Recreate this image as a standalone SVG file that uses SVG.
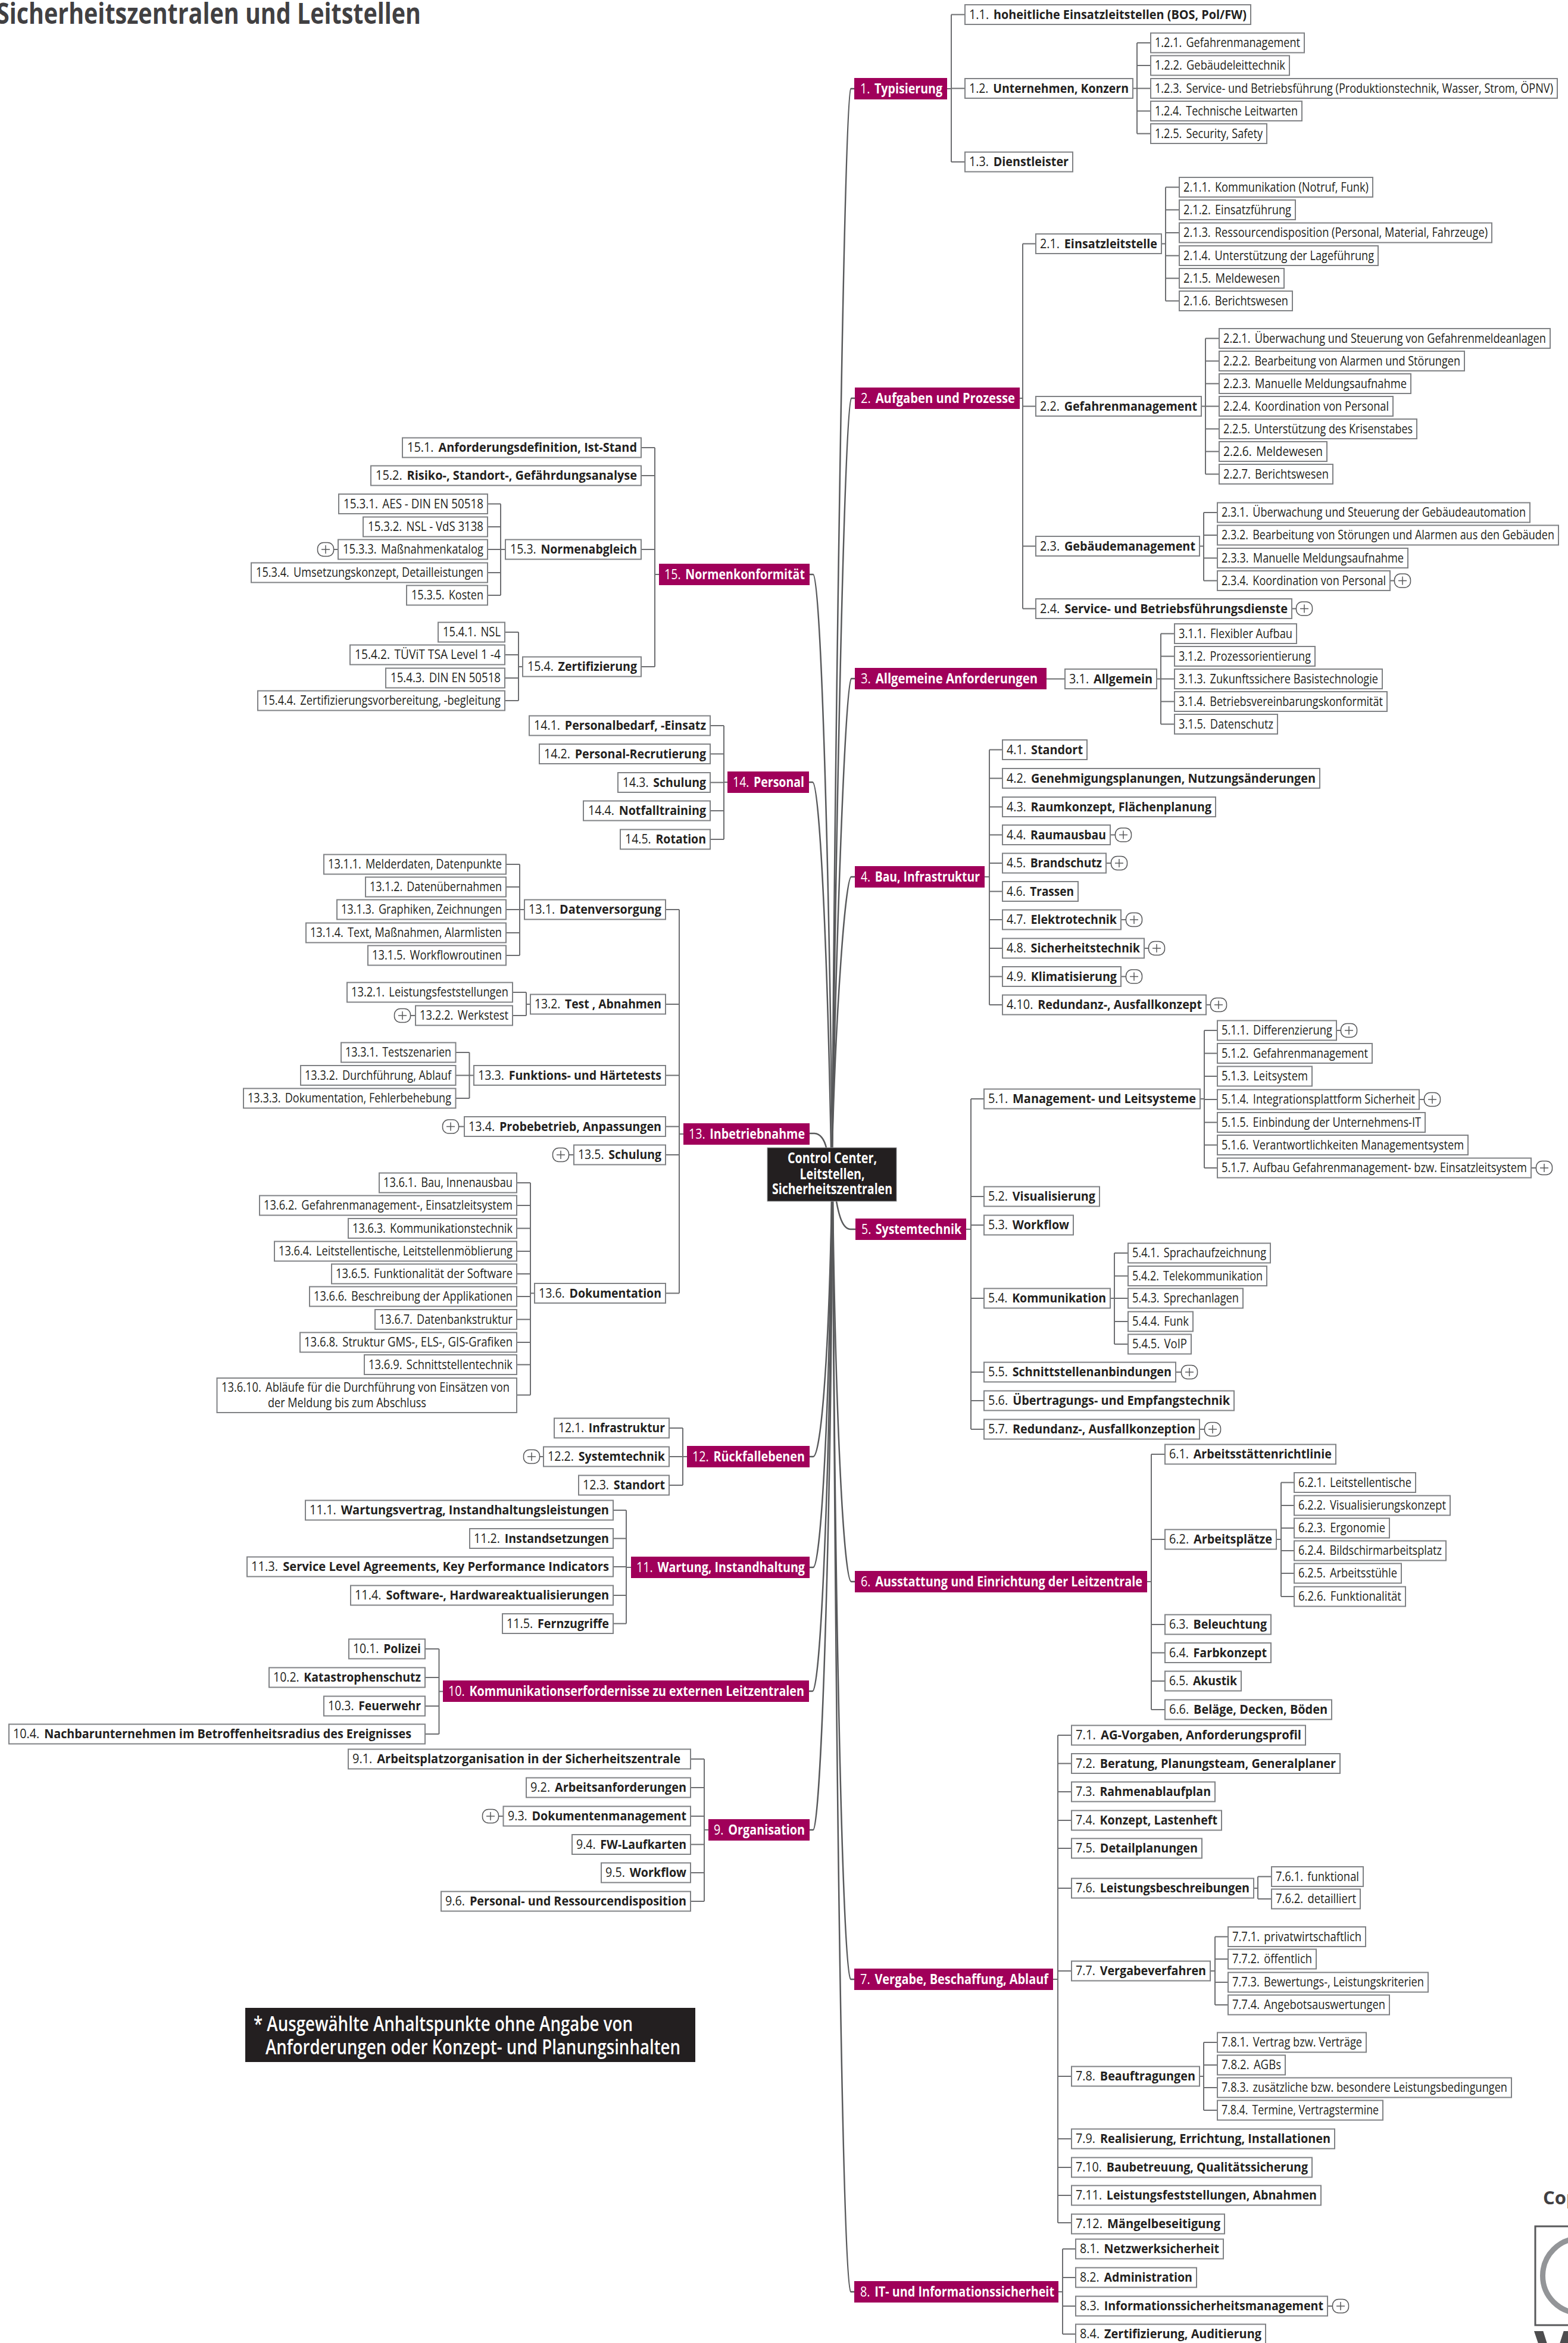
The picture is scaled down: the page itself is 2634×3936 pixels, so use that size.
<svg xmlns="http://www.w3.org/2000/svg" xmlns:xlink="http://www.w3.org/1999/xlink" width="2634" height="3936" viewBox="0 0 2634 3936">
<style>
text{font-family:"Open Sans","Noto Sans","Liberation Sans",sans-serif;font-size:22px;fill:#231f20}
.h{font-weight:700}
rect.b{fill:#fff;stroke:#808285;stroke-width:2}
rect.t{fill:#a0005a}
rect.r{fill:#231f20;stroke:#939598;stroke-width:1}
text.w{font-size:23px;fill:#fff}
text.w tspan{fill:#fff}
text.c{font-size:25px;font-weight:700;fill:#fff;text-anchor:middle}
text.n{font-size:35px;font-weight:600;fill:#fff}
.k path{fill:none;stroke:#6d6e71;stroke-width:2}
.k path.m{stroke:#58595b;stroke-width:2.5}
.p rect{fill:#fff;stroke:#58595b;stroke-width:1.5}
.p path{fill:none;stroke:#58595b;stroke-width:1.5}
</style>
<defs>
<g id="plus" class="p"><rect x="-13.5" y="-11.5" width="27" height="23" rx="10"/><path d="M-7 0H7M0 -7V7"/></g>
</defs>
<rect width="2634" height="3936" fill="#fff"/>
<text id="title" x="-6" y="40" style="font-size:49px;font-weight:700;fill:#414042" textLength="713" lengthAdjust="spacingAndGlyphs">Sicherheitszentralen und Leitstellen</text>
<g id="connectors" class="k">
<path class="m" d="M1435 149H1429C1418 149 1402 1300 1398 1928"/>
<path class="m" d="M1436 669H1430C1419 669 1404 1400 1398 1928"/>
<path class="m" d="M1436 1140H1430C1420 1140 1404 1600 1398 1928"/>
<path class="m" d="M1436 1473H1430C1420 1473 1404 1700 1398 1928"/>
<path class="m" d="M1360 965H1366C1378 965 1392 1400 1398 1928"/>
<path class="m" d="M1359 1314H1365C1377 1314 1390 1600 1396 1928"/>
<path class="m" d="M1360 1904H1368C1378 1904 1385 1915 1388 1928"/>
<path class="m" d="M1360 2447H1366C1378 2447 1392 2300 1397 2018"/>
<path class="m" d="M1360 2633H1366C1378 2633 1393 2400 1397 2018"/>
<path class="m" d="M1359 2841H1365C1378 2841 1394 2500 1398 2018"/>
<path class="m" d="M1360 3074H1366C1378 3074 1396 2600 1398 2018"/>
<path class="m" d="M1437 2065H1429C1415 2065 1409 2040 1405 2018"/>
<path class="m" d="M1436 2657H1430C1418 2657 1404 2400 1399 2018"/>
<path class="m" d="M1435 3325H1429C1416 3325 1402 2700 1399 2018"/>
<path class="m" d="M1435 3850H1429C1416 3850 1404 3000 1399 2018"/>
<path d="M1591 149H1598M1598 24.5V272M1598 24.5H1621M1598 148.5H1621M1598 272H1621"/>
<path d="M1903 148.5H1910M1910 72V224.5M1910 72H1933M1910 110H1933M1910 148.5H1933M1910 186.5H1933M1910 224.5H1933"/>
<path d="M1713 669H1718M1718 409.5V1022.5M1718 409.5H1740M1718 682.5H1740M1718 917.5H1740M1718 1022.5H1740"/>
<path d="M1951 409.5H1958M1958 314.5V505.5M1958 314.5H1981M1958 352.5H1981M1958 391H1981M1958 429.5H1981M1958 467.5H1981M1958 505.5H1981"/>
<path d="M2018 682.5H2025M2025 568.5V796.5M2025 568.5H2048M2025 606.5H2048M2025 644.5H2048M2025 682.5H2048M2025 720.5H2048M2025 758.5H2048M2025 796.5H2048"/>
<path d="M2015 917.5H2022M2022 861V975.5M2022 861H2045M2022 899H2045M2022 937.5H2045M2022 975.5H2045M2335 975.5H2343M2170 1022.5H2178"/>
<path d="M1758 1140.5H1789M1943 1140.5H1950M1950 1064.5V1216.5M1950 1064.5H1973M1950 1102.5H1973M1950 1140.5H1973M1950 1178.5H1973M1950 1216.5H1973"/>
<path d="M1654 1473H1662M1662 1259.5V1688M1662 1259.5H1684M1662 1307.5H1684M1662 1355.5H1684M1662 1402.5H1684M1662 1450H1684M1662 1497.5H1684M1662 1545H1684M1662 1593H1684M1662 1640.5H1684M1662 1688H1684M1865 1402.5H1874M1858 1450H1866M1883 1545H1892M1922 1593H1930M1883 1640.5H1892M2026 1688H2034"/>
<path d="M1623 2065H1631M1631 1846V2401M1631 1846H1653M1631 2010H1653M1631 2058H1653M1631 2181H1653M1631 2305H1653M1631 2353H1653M1631 2401H1653M1975 2305H1984M2015 2401H2024"/>
<path d="M2016 1846H2023M2023 1731V1962M2023 1731H2045M2023 1769.5H2045M2023 1808H2045M2023 1847H2045M2023 1885.5H2045M2023 1923.5H2045M2023 1962H2045M2245 1731H2253M2384 1847H2393M2572 1962H2581"/>
<path d="M1865 2181H1872M1872 2105V2258M1872 2105H1895M1872 2143.5H1895M1872 2181H1895M1872 2220H1895M1872 2258H1895"/>
<path d="M1927 2657H1934M1934 2443V2872M1934 2443H1957M1934 2586H1957M1934 2729H1957M1934 2776.5H1957M1934 2824H1957M1934 2872H1957"/>
<path d="M2144 2586H2152M2152 2490.5V2682M2152 2490.5H2174M2152 2529H2174M2152 2567H2174M2152 2605H2174M2152 2643H2174M2152 2682H2174"/>
<path d="M1769 3325H1777M1777 2915V3734M1777 2915H1800M1777 2962.5H1800M1777 3010H1800M1777 3058H1800M1777 3105H1800M1777 3172H1800M1777 3311H1800M1777 3488H1800M1777 3593H1800M1777 3641H1800M1777 3688H1800M1777 3734H1800"/>
<path d="M2106 3172H2113M2113 3152.5V3190M2113 3152.5H2136M2113 3190H2136"/>
<path d="M2033 3311H2041M2041 3253.5V3368M2041 3253.5H2063M2041 3291H2063M2041 3330H2063M2041 3368H2063"/>
<path d="M2015 3488H2022M2022 3431V3545M2022 3431H2045M2022 3469H2045M2022 3507H2045M2022 3545H2045"/>
<path d="M1778 3850H1785M1785 3778V3921M1785 3778H1807M1785 3826H1807M1785 3874H1807M1785 3921H1807M2230 3874H2239"/>
<path d="M1107 965H1100M1100 752V1120M1100 752H1077M1100 799H1077M1100 923H1077M1100 1120H1077"/>
<path d="M849 923H841M841 846.5V1000M841 846.5H819M841 885H819M841 923H819M841 962H819M841 1000H819M568 923H560"/>
<path d="M878 1120H871M871 1062V1177M871 1062H848M871 1100H848M871 1139H848M871 1177H848"/>
<path d="M1222 1314H1216M1216 1219V1410M1216 1219H1193M1216 1266.5H1193M1216 1314.5H1193M1216 1362H1193M1216 1410H1193"/>
<path d="M1148 1905H1141M1141 1528V2172.5M1141 1528H1118M1141 1687H1118M1141 1806.5H1118M1141 1892.5H1118M1141 1940H1118M1141 2172.5H1118M780 1892.5H771M964 1940H956"/>
<path d="M881 1528H873M873 1452V1605M873 1452H850M873 1490H850M873 1528H850M873 1567H850M873 1605H850"/>
<path d="M891 1687H884M884 1667V1706M884 1667H861M884 1706H861M698 1706H690"/>
<path d="M796 1806.5H788.5M788.5 1768V1845M788.5 1768H765.5M788.5 1806.5H765.5M788.5 1845H765.5"/>
<path d="M898 2172.5H891M891 1987V2343.5M891 1987H868M891 2025H868M891 2063.5H868M891 2102H868M891 2140H868M891 2178H868M891 2216.5H868M891 2255H868M891 2292.5H868M891 2343.5H868"/>
<path d="M1154 2447H1147M1147 2399V2495M1147 2399H1124M1147 2447H1124M1147 2495H1124M913 2447H907"/>
<path d="M1060 2633H1052M1052 2537V2727.5M1052 2537H1030M1052 2584.5H1030M1052 2632H1030M1052 2680H1030M1052 2727.5H1030"/>
<path d="M744 2841.5H737.5M737.5 2770V2913M737.5 2770H714M737.5 2818H714M737.5 2866H714M737.5 2913H714"/>
<path d="M1190 3074H1183M1183 2955V3194M1183 2955H1160M1183 3003H1160M1183 3051H1160M1183 3098.5H1160M1183 3146H1160M1183 3194H1160M845.5 3051H838"/>
</g>

<g id="root"><rect class="r" x="1289" y="1928" width="217" height="90"/><text class="c" x="1398" y="1954" textLength="150" lengthAdjust="spacingAndGlyphs">Control Center,</text><text class="c" x="1398" y="1980.5" textLength="109" lengthAdjust="spacingAndGlyphs">Leitstellen,</text><text class="c" x="1398" y="2006" textLength="202" lengthAdjust="spacingAndGlyphs">Sicherheitszentralen</text></g>

<g id="n1"><rect class="t" x="1435" y="131" width="156" height="36"/><text class="w" x="1445" y="156.5" textLength="138" lengthAdjust="spacingAndGlyphs">1. <tspan class="h" dx="3">Typisierung</tspan></text></g>
<g id="n1-1"><rect class="b" x="1621" y="8" width="480" height="33"/><text x="1628" y="31.5" textLength="466" lengthAdjust="spacingAndGlyphs">1.1. <tspan class="h" dx="3">hoheitliche Einsatzleitstellen (BOS, Pol/FW)</tspan></text></g>
<g id="n1-2"><rect class="b" x="1621" y="132" width="282" height="33"/><text x="1628" y="155.5" textLength="268" lengthAdjust="spacingAndGlyphs">1.2. <tspan class="h" dx="3">Unternehmen, Konzern</tspan></text></g>
<g id="n1-2-1"><rect class="b" x="1933" y="55.5" width="258" height="33"/><text x="1940" y="79" textLength="244" lengthAdjust="spacingAndGlyphs">1.2.1. <tspan dx="3">Gefahrenmanagement</tspan></text></g>
<g id="n1-2-2"><rect class="b" x="1933" y="93.5" width="233" height="33"/><text x="1940" y="117" textLength="219" lengthAdjust="spacingAndGlyphs">1.2.2. <tspan dx="3">Gebäudeleittechnik</tspan></text></g>
<g id="n1-2-3"><rect class="b" x="1933" y="132" width="683" height="33"/><text x="1940" y="155.5" textLength="669" lengthAdjust="spacingAndGlyphs">1.2.3. <tspan dx="3">Service- und Betriebsführung (Produktionstechnik, Wasser, Strom, ÖPNV)</tspan></text></g>
<g id="n1-2-4"><rect class="b" x="1933" y="170" width="254" height="33"/><text x="1940" y="193.5" textLength="240" lengthAdjust="spacingAndGlyphs">1.2.4. <tspan dx="3">Technische Leitwarten</tspan></text></g>
<g id="n1-2-5"><rect class="b" x="1933" y="208" width="195" height="33"/><text x="1940" y="231.5" textLength="181" lengthAdjust="spacingAndGlyphs">1.2.5. <tspan dx="3">Security, Safety</tspan></text></g>
<g id="n1-3"><rect class="b" x="1621" y="255.5" width="181" height="33"/><text x="1628" y="279" textLength="167" lengthAdjust="spacingAndGlyphs">1.3. <tspan class="h" dx="3">Dienstleister</tspan></text></g>

<g id="n2"><rect class="t" x="1436" y="651" width="277" height="36"/><text class="w" x="1446" y="676.5" textLength="259" lengthAdjust="spacingAndGlyphs">2. <tspan class="h" dx="3">Aufgaben und Prozesse</tspan></text></g>
<g id="n2-1"><rect class="b" x="1740" y="393" width="211" height="33"/><text x="1747" y="416.5" textLength="197" lengthAdjust="spacingAndGlyphs">2.1. <tspan class="h" dx="3">Einsatzleitstelle</tspan></text></g>
<g id="n2-1-1"><rect class="b" x="1981" y="298" width="325" height="33"/><text x="1988" y="321.5" textLength="311" lengthAdjust="spacingAndGlyphs">2.1.1. <tspan dx="3">Kommunikation (Notruf, Funk)</tspan></text></g>
<g id="n2-1-2"><rect class="b" x="1981" y="336" width="195" height="33"/><text x="1988" y="359.5" textLength="181" lengthAdjust="spacingAndGlyphs">2.1.2. <tspan dx="3">Einsatzführung</tspan></text></g>
<g id="n2-1-3"><rect class="b" x="1981" y="374.5" width="525" height="33"/><text x="1988" y="398" textLength="511" lengthAdjust="spacingAndGlyphs">2.1.3. <tspan dx="3">Ressourcendisposition (Personal, Material, Fahrzeuge)</tspan></text></g>
<g id="n2-1-4"><rect class="b" x="1981" y="413" width="334" height="33"/><text x="1988" y="436.5" textLength="320" lengthAdjust="spacingAndGlyphs">2.1.4. <tspan dx="3">Unterstützung der Lageführung</tspan></text></g>
<g id="n2-1-5"><rect class="b" x="1981" y="451" width="176" height="33"/><text x="1988" y="474.5" textLength="162" lengthAdjust="spacingAndGlyphs">2.1.5. <tspan dx="3">Meldewesen</tspan></text></g>
<g id="n2-1-6"><rect class="b" x="1981" y="489" width="190" height="33"/><text x="1988" y="512.5" textLength="176" lengthAdjust="spacingAndGlyphs">2.1.6. <tspan dx="3">Berichtswesen</tspan></text></g>
<g id="n2-2"><rect class="b" x="1740" y="666" width="278" height="33"/><text x="1747" y="689.5" textLength="264" lengthAdjust="spacingAndGlyphs">2.2. <tspan class="h" dx="3">Gefahrenmanagement</tspan></text></g>
<g id="n2-2-1"><rect class="b" x="2048" y="552" width="556" height="33"/><text x="2055" y="575.5" textLength="542" lengthAdjust="spacingAndGlyphs">2.2.1. <tspan dx="3">Überwachung und Steuerung von Gefahrenmeldeanlagen</tspan></text></g>
<g id="n2-2-2"><rect class="b" x="2048" y="590" width="412" height="33"/><text x="2055" y="613.5" textLength="398" lengthAdjust="spacingAndGlyphs">2.2.2. <tspan dx="3">Bearbeitung von Alarmen und Störungen</tspan></text></g>
<g id="n2-2-3"><rect class="b" x="2048" y="628" width="322" height="33"/><text x="2055" y="651.5" textLength="308" lengthAdjust="spacingAndGlyphs">2.2.3. <tspan dx="3">Manuelle Meldungsaufnahme</tspan></text></g>
<g id="n2-2-4"><rect class="b" x="2048" y="666" width="292" height="33"/><text x="2055" y="689.5" textLength="278" lengthAdjust="spacingAndGlyphs">2.2.4. <tspan dx="3">Koordination von Personal</tspan></text></g>
<g id="n2-2-5"><rect class="b" x="2048" y="704" width="332" height="33"/><text x="2055" y="727.5" textLength="318" lengthAdjust="spacingAndGlyphs">2.2.5. <tspan dx="3">Unterstützung des Krisenstabes</tspan></text></g>
<g id="n2-2-6"><rect class="b" x="2048" y="742" width="181" height="33"/><text x="2055" y="765.5" textLength="167" lengthAdjust="spacingAndGlyphs">2.2.6. <tspan dx="3">Meldewesen</tspan></text></g>
<g id="n2-2-7"><rect class="b" x="2048" y="780" width="191" height="33"/><text x="2055" y="803.5" textLength="177" lengthAdjust="spacingAndGlyphs">2.2.7. <tspan dx="3">Berichtswesen</tspan></text></g>
<g id="n2-3"><rect class="b" x="1740" y="901" width="275" height="33"/><text x="1747" y="924.5" textLength="261" lengthAdjust="spacingAndGlyphs">2.3. <tspan class="h" dx="3">Gebäudemanagement</tspan></text></g>
<g id="n2-3-1"><rect class="b" x="2045" y="844.5" width="525" height="33"/><text x="2052" y="868" textLength="511" lengthAdjust="spacingAndGlyphs">2.3.1. <tspan dx="3">Überwachung und Steuerung der Gebäudeautomation</tspan></text></g>
<g id="n2-3-2"><rect class="b" x="2045" y="882.5" width="573" height="33"/><text x="2052" y="906" textLength="559" lengthAdjust="spacingAndGlyphs">2.3.2. <tspan dx="3">Bearbeitung von Störungen und Alarmen aus den Gebäuden</tspan></text></g>
<g id="n2-3-3"><rect class="b" x="2045" y="921" width="320" height="33"/><text x="2052" y="944.5" textLength="306" lengthAdjust="spacingAndGlyphs">2.3.3. <tspan dx="3">Manuelle Meldungsaufnahme</tspan></text></g>
<g id="n2-3-4"><rect class="b" x="2045" y="959" width="290" height="33"/><text x="2052" y="982.5" textLength="276" lengthAdjust="spacingAndGlyphs">2.3.4. <tspan dx="3">Koordination von Personal</tspan></text><use href="#plus" x="2356" y="975.5"/></g>
<g id="n2-4"><rect class="b" x="1740" y="1006" width="430" height="33"/><text x="1747" y="1029.5" textLength="416" lengthAdjust="spacingAndGlyphs">2.4. <tspan class="h" dx="3">Service- und Betriebsführungsdienste</tspan></text><use href="#plus" x="2191" y="1022.5"/></g>

<g id="n3"><rect class="t" x="1436" y="1122" width="322" height="36"/><text class="w" x="1446" y="1147.5" textLength="297" lengthAdjust="spacingAndGlyphs">3. <tspan class="h" dx="3">Allgemeine Anforderungen</tspan></text></g>
<g id="n3-1"><rect class="b" x="1789" y="1124" width="154" height="33"/><text x="1796" y="1147.5" textLength="140" lengthAdjust="spacingAndGlyphs">3.1. <tspan class="h" dx="3">Allgemein</tspan></text></g>
<g id="n3-1-1"><rect class="b" x="1973" y="1048" width="205" height="33"/><text x="1980" y="1071.5" textLength="191" lengthAdjust="spacingAndGlyphs">3.1.1. <tspan dx="3">Flexibler Aufbau</tspan></text></g>
<g id="n3-1-2"><rect class="b" x="1973" y="1086" width="236" height="33"/><text x="1980" y="1109.5" textLength="222" lengthAdjust="spacingAndGlyphs">3.1.2. <tspan dx="3">Prozessorientierung</tspan></text></g>
<g id="n3-1-3"><rect class="b" x="1973" y="1124" width="349" height="33"/><text x="1980" y="1147.5" textLength="335" lengthAdjust="spacingAndGlyphs">3.1.3. <tspan dx="3">Zukunftssichere Basistechnologie</tspan></text></g>
<g id="n3-1-4"><rect class="b" x="1973" y="1162" width="357" height="33"/><text x="1980" y="1185.5" textLength="343" lengthAdjust="spacingAndGlyphs">3.1.4. <tspan dx="3">Betriebsvereinbarungskonformität</tspan></text></g>
<g id="n3-1-5"><rect class="b" x="1973" y="1200" width="173" height="33"/><text x="1980" y="1223.5" textLength="159" lengthAdjust="spacingAndGlyphs">3.1.5. <tspan dx="3">Datenschutz</tspan></text></g>

<g id="n4"><rect class="t" x="1436" y="1455" width="218" height="36"/><text class="w" x="1446" y="1480.5" textLength="200" lengthAdjust="spacingAndGlyphs">4. <tspan class="h" dx="3">Bau, Infrastruktur</tspan></text></g>
<g id="n4-1"><rect class="b" x="1684" y="1243" width="142" height="33"/><text x="1691" y="1266.5" textLength="128" lengthAdjust="spacingAndGlyphs">4.1. <tspan class="h" dx="3">Standort</tspan></text></g>
<g id="n4-2"><rect class="b" x="1684" y="1291" width="533" height="33"/><text x="1691" y="1314.5" textLength="519" lengthAdjust="spacingAndGlyphs">4.2. <tspan class="h" dx="3">Genehmigungsplanungen, Nutzungsänderungen</tspan></text></g>
<g id="n4-3"><rect class="b" x="1684" y="1339" width="358" height="33"/><text x="1691" y="1362.5" textLength="344" lengthAdjust="spacingAndGlyphs">4.3. <tspan class="h" dx="3">Raumkonzept, Flächenplanung</tspan></text></g>
<g id="n4-4"><rect class="b" x="1684" y="1386" width="181" height="33"/><text x="1691" y="1409.5" textLength="167" lengthAdjust="spacingAndGlyphs">4.4. <tspan class="h" dx="3">Raumausbau</tspan></text><use href="#plus" x="1887" y="1402.5"/></g>
<g id="n4-5"><rect class="b" x="1684" y="1433.5" width="174" height="33"/><text x="1691" y="1457" textLength="160" lengthAdjust="spacingAndGlyphs">4.5. <tspan class="h" dx="3">Brandschutz</tspan></text><use href="#plus" x="1880" y="1450"/></g>
<g id="n4-6"><rect class="b" x="1684" y="1481" width="127" height="33"/><text x="1691" y="1504.5" textLength="113" lengthAdjust="spacingAndGlyphs">4.6. <tspan class="h" dx="3">Trassen</tspan></text></g>
<g id="n4-7"><rect class="b" x="1684" y="1528.5" width="199" height="33"/><text x="1691" y="1552" textLength="185" lengthAdjust="spacingAndGlyphs">4.7. <tspan class="h" dx="3">Elektrotechnik</tspan></text><use href="#plus" x="1905" y="1545"/></g>
<g id="n4-8"><rect class="b" x="1684" y="1576.5" width="238" height="33"/><text x="1691" y="1600" textLength="224" lengthAdjust="spacingAndGlyphs">4.8. <tspan class="h" dx="3">Sicherheitstechnik</tspan></text><use href="#plus" x="1943" y="1593"/></g>
<g id="n4-9"><rect class="b" x="1684" y="1624" width="199" height="33"/><text x="1691" y="1647.5" textLength="185" lengthAdjust="spacingAndGlyphs">4.9. <tspan class="h" dx="3">Klimatisierung</tspan></text><use href="#plus" x="1905" y="1640.5"/></g>
<g id="n4-10"><rect class="b" x="1684" y="1671.5" width="342" height="33"/><text x="1691" y="1695" textLength="328" lengthAdjust="spacingAndGlyphs">4.10. <tspan class="h" dx="3">Redundanz-, Ausfallkonzept</tspan></text><use href="#plus" x="2047" y="1688"/></g>

<g id="n5"><rect class="t" x="1437" y="2047" width="186" height="36"/><text class="w" x="1447" y="2072.5" textLength="168" lengthAdjust="spacingAndGlyphs">5. <tspan class="h" dx="3">Systemtechnik</tspan></text></g>
<g id="n5-1"><rect class="b" x="1653" y="1829.5" width="363" height="33"/><text x="1660" y="1853" textLength="349" lengthAdjust="spacingAndGlyphs">5.1. <tspan class="h" dx="3">Management- und Leitsysteme</tspan></text></g>
<g id="n5-1-1"><rect class="b" x="2045" y="1714.5" width="200" height="33"/><text x="2052" y="1738" textLength="186" lengthAdjust="spacingAndGlyphs">5.1.1. <tspan dx="3">Differenzierung</tspan></text><use href="#plus" x="2266" y="1731"/></g>
<g id="n5-1-2"><rect class="b" x="2045" y="1753" width="260" height="33"/><text x="2052" y="1776.5" textLength="246" lengthAdjust="spacingAndGlyphs">5.1.2. <tspan dx="3">Gefahrenmanagement</tspan></text></g>
<g id="n5-1-3"><rect class="b" x="2045" y="1791.5" width="159" height="33"/><text x="2052" y="1815" textLength="145" lengthAdjust="spacingAndGlyphs">5.1.3. <tspan dx="3">Leitsystem</tspan></text></g>
<g id="n5-1-4"><rect class="b" x="2045" y="1830.5" width="339" height="33"/><text x="2052" y="1854" textLength="325" lengthAdjust="spacingAndGlyphs">5.1.4. <tspan dx="3">Integrationsplattform Sicherheit</tspan></text><use href="#plus" x="2406" y="1847"/></g>
<g id="n5-1-5"><rect class="b" x="2045" y="1869" width="349" height="33"/><text x="2052" y="1892.5" textLength="335" lengthAdjust="spacingAndGlyphs">5.1.5. <tspan dx="3">Einbindung der Unternehmens-IT</tspan></text></g>
<g id="n5-1-6"><rect class="b" x="2045" y="1907" width="421" height="33"/><text x="2052" y="1930.5" textLength="407" lengthAdjust="spacingAndGlyphs">5.1.6. <tspan dx="3">Verantwortlichkeiten Managementsystem</tspan></text></g>
<g id="n5-1-7"><rect class="b" x="2045" y="1945.5" width="527" height="33"/><text x="2052" y="1969" textLength="513" lengthAdjust="spacingAndGlyphs">5.1.7. <tspan dx="3">Aufbau Gefahrenmanagement- bzw. Einsatzleitsystem</tspan></text><use href="#plus" x="2594" y="1962"/></g>
<g id="n5-2"><rect class="b" x="1653" y="1993.5" width="194" height="33"/><text x="1660" y="2017" textLength="180" lengthAdjust="spacingAndGlyphs">5.2. <tspan class="h" dx="3">Visualisierung</tspan></text></g>
<g id="n5-3"><rect class="b" x="1653" y="2041.5" width="150" height="33"/><text x="1660" y="2065" textLength="136" lengthAdjust="spacingAndGlyphs">5.3. <tspan class="h" dx="3">Workflow</tspan></text></g>
<g id="n5-4"><rect class="b" x="1653" y="2164.5" width="212" height="33"/><text x="1660" y="2188" textLength="198" lengthAdjust="spacingAndGlyphs">5.4. <tspan class="h" dx="3">Kommunikation</tspan></text></g>
<g id="n5-4-1"><rect class="b" x="1895" y="2088.5" width="239" height="33"/><text x="1902" y="2112" textLength="225" lengthAdjust="spacingAndGlyphs">5.4.1. <tspan dx="3">Sprachaufzeichnung</tspan></text></g>
<g id="n5-4-2"><rect class="b" x="1895" y="2127" width="233" height="33"/><text x="1902" y="2150.5" textLength="219" lengthAdjust="spacingAndGlyphs">5.4.2. <tspan dx="3">Telekommunikation</tspan></text></g>
<g id="n5-4-3"><rect class="b" x="1895" y="2164.5" width="193" height="33"/><text x="1902" y="2188" textLength="179" lengthAdjust="spacingAndGlyphs">5.4.3. <tspan dx="3">Sprechanlagen</tspan></text></g>
<g id="n5-4-4"><rect class="b" x="1895" y="2203.5" width="109" height="33"/><text x="1902" y="2227" textLength="95" lengthAdjust="spacingAndGlyphs">5.4.4. <tspan dx="3">Funk</tspan></text></g>
<g id="n5-4-5"><rect class="b" x="1895" y="2241.5" width="106" height="33"/><text x="1902" y="2265" textLength="92" lengthAdjust="spacingAndGlyphs">5.4.5. <tspan dx="3">VoIP</tspan></text></g>
<g id="n5-5"><rect class="b" x="1653" y="2288.5" width="322" height="33"/><text x="1660" y="2312" textLength="308" lengthAdjust="spacingAndGlyphs">5.5. <tspan class="h" dx="3">Schnittstellenanbindungen</tspan></text><use href="#plus" x="1998" y="2305"/></g>
<g id="n5-6"><rect class="b" x="1653" y="2336.5" width="420" height="33"/><text x="1660" y="2360" textLength="406" lengthAdjust="spacingAndGlyphs">5.6. <tspan class="h" dx="3">Übertragungs- und Empfangstechnik</tspan></text></g>
<g id="n5-7"><rect class="b" x="1653" y="2384.5" width="362" height="33"/><text x="1660" y="2408" textLength="348" lengthAdjust="spacingAndGlyphs">5.7. <tspan class="h" dx="3">Redundanz-, Ausfallkonzeption</tspan></text><use href="#plus" x="2037" y="2401"/></g>

<g id="n6"><rect class="t" x="1436" y="2639" width="491" height="36"/><text class="w" x="1446" y="2664.5" textLength="473" lengthAdjust="spacingAndGlyphs">6. <tspan class="h" dx="3">Ausstattung und Einrichtung der Leitzentrale</tspan></text></g>
<g id="n6-1"><rect class="b" x="1957" y="2426.5" width="287" height="33"/><text x="1964" y="2450" textLength="273" lengthAdjust="spacingAndGlyphs">6.1. <tspan class="h" dx="3">Arbeitsstättenrichtlinie</tspan></text></g>
<g id="n6-2"><rect class="b" x="1957" y="2569.5" width="187" height="33"/><text x="1964" y="2593" textLength="173" lengthAdjust="spacingAndGlyphs">6.2. <tspan class="h" dx="3">Arbeitsplätze</tspan></text></g>
<g id="n6-2-1"><rect class="b" x="2174" y="2474" width="204" height="33"/><text x="2181" y="2497.5" textLength="190" lengthAdjust="spacingAndGlyphs">6.2.1. <tspan dx="3">Leitstellentische</tspan></text></g>
<g id="n6-2-2"><rect class="b" x="2174" y="2512.5" width="262" height="33"/><text x="2181" y="2536" textLength="248" lengthAdjust="spacingAndGlyphs">6.2.2. <tspan dx="3">Visualisierungskonzept</tspan></text></g>
<g id="n6-2-3"><rect class="b" x="2174" y="2550.5" width="160" height="33"/><text x="2181" y="2574" textLength="146" lengthAdjust="spacingAndGlyphs">6.2.3. <tspan dx="3">Ergonomie</tspan></text></g>
<g id="n6-2-4"><rect class="b" x="2174" y="2588.5" width="255" height="33"/><text x="2181" y="2612" textLength="241" lengthAdjust="spacingAndGlyphs">6.2.4. <tspan dx="3">Bildschirmarbeitsplatz</tspan></text></g>
<g id="n6-2-5"><rect class="b" x="2174" y="2626.5" width="180" height="33"/><text x="2181" y="2650" textLength="166" lengthAdjust="spacingAndGlyphs">6.2.5. <tspan dx="3">Arbeitsstühle</tspan></text></g>
<g id="n6-2-6"><rect class="b" x="2174" y="2665.5" width="187" height="33"/><text x="2181" y="2689" textLength="173" lengthAdjust="spacingAndGlyphs">6.2.6. <tspan dx="3">Funktionalität</tspan></text></g>
<g id="n6-3"><rect class="b" x="1957" y="2712.5" width="178" height="33"/><text x="1964" y="2736" textLength="164" lengthAdjust="spacingAndGlyphs">6.3. <tspan class="h" dx="3">Beleuchtung</tspan></text></g>
<g id="n6-4"><rect class="b" x="1957" y="2760" width="178" height="33"/><text x="1964" y="2783.5" textLength="164" lengthAdjust="spacingAndGlyphs">6.4. <tspan class="h" dx="3">Farbkonzept</tspan></text></g>
<g id="n6-5"><rect class="b" x="1957" y="2807.5" width="128" height="33"/><text x="1964" y="2831" textLength="114" lengthAdjust="spacingAndGlyphs">6.5. <tspan class="h" dx="3">Akustik</tspan></text></g>
<g id="n6-6"><rect class="b" x="1957" y="2855.5" width="280" height="33"/><text x="1964" y="2879" textLength="266" lengthAdjust="spacingAndGlyphs">6.6. <tspan class="h" dx="3">Beläge, Decken, Böden</tspan></text></g>

<g id="n7"><rect class="t" x="1435" y="3307" width="334" height="36"/><text class="w" x="1445" y="3332.5" textLength="316" lengthAdjust="spacingAndGlyphs">7. <tspan class="h" dx="3">Vergabe, Beschaffung, Ablauf</tspan></text></g>
<g id="n7-1"><rect class="b" x="1800" y="2898.5" width="393" height="33"/><text x="1807" y="2922" textLength="379" lengthAdjust="spacingAndGlyphs">7.1. <tspan class="h" dx="3">AG-Vorgaben,  Anforderungsprofil</tspan></text></g>
<g id="n7-2"><rect class="b" x="1800" y="2946" width="451" height="33"/><text x="1807" y="2969.5" textLength="437" lengthAdjust="spacingAndGlyphs">7.2. <tspan class="h" dx="3">Beratung, Planungsteam, Generalplaner</tspan></text></g>
<g id="n7-3"><rect class="b" x="1800" y="2993.5" width="241" height="33"/><text x="1807" y="3017" textLength="227" lengthAdjust="spacingAndGlyphs">7.3. <tspan class="h" dx="3">Rahmenablaufplan</tspan></text></g>
<g id="n7-4"><rect class="b" x="1800" y="3041.5" width="252" height="33"/><text x="1807" y="3065" textLength="238" lengthAdjust="spacingAndGlyphs">7.4. <tspan class="h" dx="3">Konzept, Lastenheft</tspan></text></g>
<g id="n7-5"><rect class="b" x="1800" y="3088.5" width="219" height="33"/><text x="1807" y="3112" textLength="205" lengthAdjust="spacingAndGlyphs">7.5. <tspan class="h" dx="3">Detailplanungen</tspan></text></g>
<g id="n7-6"><rect class="b" x="1800" y="3155.5" width="306" height="33"/><text x="1807" y="3179" textLength="292" lengthAdjust="spacingAndGlyphs">7.6. <tspan class="h" dx="3">Leistungsbeschreibungen</tspan></text></g>
<g id="n7-6-1"><rect class="b" x="2136" y="3136" width="154" height="33"/><text x="2143" y="3159.5" textLength="140" lengthAdjust="spacingAndGlyphs">7.6.1. <tspan dx="3">funktional</tspan></text></g>
<g id="n7-6-2"><rect class="b" x="2136" y="3173.5" width="149" height="33"/><text x="2143" y="3197" textLength="135" lengthAdjust="spacingAndGlyphs">7.6.2. <tspan dx="3">detailliert</tspan></text></g>
<g id="n7-7"><rect class="b" x="1800" y="3294.5" width="233" height="33"/><text x="1807" y="3318" textLength="219" lengthAdjust="spacingAndGlyphs">7.7. <tspan class="h" dx="3">Vergabeverfahren</tspan></text></g>
<g id="n7-7-1"><rect class="b" x="2063" y="3237" width="231" height="33"/><text x="2070" y="3260.5" textLength="217" lengthAdjust="spacingAndGlyphs">7.7.1. <tspan dx="3">privatwirtschaftlich</tspan></text></g>
<g id="n7-7-2"><rect class="b" x="2063" y="3274.5" width="148" height="33"/><text x="2070" y="3298" textLength="134" lengthAdjust="spacingAndGlyphs">7.7.2. <tspan dx="3">öffentlich</tspan></text></g>
<g id="n7-7-3"><rect class="b" x="2063" y="3313.5" width="336" height="33"/><text x="2070" y="3337" textLength="322" lengthAdjust="spacingAndGlyphs">7.7.3. <tspan dx="3">Bewertungs-, Leistungskriterien</tspan></text></g>
<g id="n7-7-4"><rect class="b" x="2063" y="3351.5" width="271" height="33"/><text x="2070" y="3375" textLength="257" lengthAdjust="spacingAndGlyphs">7.7.4. <tspan dx="3">Angebotsauswertungen</tspan></text></g>
<g id="n7-8"><rect class="b" x="1800" y="3471.5" width="215" height="33"/><text x="1807" y="3495" textLength="201" lengthAdjust="spacingAndGlyphs">7.8. <tspan class="h" dx="3">Beauftragungen</tspan></text></g>
<g id="n7-8-1"><rect class="b" x="2045" y="3414.5" width="250" height="33"/><text x="2052" y="3438" textLength="236" lengthAdjust="spacingAndGlyphs">7.8.1. <tspan dx="3">Vertrag bzw. Verträge</tspan></text></g>
<g id="n7-8-2"><rect class="b" x="2045" y="3452.5" width="114" height="33"/><text x="2052" y="3476" textLength="100" lengthAdjust="spacingAndGlyphs">7.8.2. <tspan dx="3">AGBs</tspan></text></g>
<g id="n7-8-3"><rect class="b" x="2045" y="3490.5" width="494" height="33"/><text x="2052" y="3514" textLength="480" lengthAdjust="spacingAndGlyphs">7.8.3. <tspan dx="3">zusätzliche bzw. besondere Leistungsbedingungen</tspan></text></g>
<g id="n7-8-4"><rect class="b" x="2045" y="3528.5" width="278" height="33"/><text x="2052" y="3552" textLength="264" lengthAdjust="spacingAndGlyphs">7.8.4. <tspan dx="3">Termine, Vertragstermine</tspan></text></g>
<g id="n7-9"><rect class="b" x="1800" y="3576.5" width="442" height="33"/><text x="1807" y="3600" textLength="428" lengthAdjust="spacingAndGlyphs">7.9. <tspan class="h" dx="3">Realisierung, Errichtung, Installationen</tspan></text></g>
<g id="n7-10"><rect class="b" x="1800" y="3624.5" width="404" height="33"/><text x="1807" y="3648" textLength="390" lengthAdjust="spacingAndGlyphs">7.10. <tspan class="h" dx="3">Baubetreuung, Qualitätssicherung</tspan></text></g>
<g id="n7-11"><rect class="b" x="1800" y="3671.5" width="419" height="33"/><text x="1807" y="3695" textLength="405" lengthAdjust="spacingAndGlyphs">7.11. <tspan class="h" dx="3">Leistungsfeststellungen, Abnahmen</tspan></text></g>
<g id="n7-12"><rect class="b" x="1800" y="3719.5" width="257" height="33"/><text x="1807" y="3743" textLength="243" lengthAdjust="spacingAndGlyphs">7.12. <tspan class="h" dx="3">Mängelbeseitigung</tspan></text></g>

<g id="n8"><rect class="t" x="1435" y="3832" width="343" height="36"/><text class="w" x="1445" y="3857.5" textLength="326" lengthAdjust="spacingAndGlyphs">8. <tspan class="h" dx="3">IT- und Informationssicherheit</tspan></text></g>
<g id="n8-1"><rect class="b" x="1807" y="3761.5" width="248" height="33"/><text x="1814" y="3785" textLength="234" lengthAdjust="spacingAndGlyphs">8.1. <tspan class="h" dx="3">Netzwerksicherheit</tspan></text></g>
<g id="n8-2"><rect class="b" x="1807" y="3809.5" width="203" height="33"/><text x="1814" y="3833" textLength="189" lengthAdjust="spacingAndGlyphs">8.2. <tspan class="h" dx="3">Administration</tspan></text></g>
<g id="n8-3"><rect class="b" x="1807" y="3857.5" width="423" height="33"/><text x="1814" y="3881" textLength="409" lengthAdjust="spacingAndGlyphs">8.3. <tspan class="h" dx="3">Informationssicherheitsmanagement</tspan></text><use href="#plus" x="2252" y="3874"/></g>
<g id="n8-4"><rect class="b" x="1807" y="3904.5" width="319" height="33"/><text x="1814" y="3928" textLength="305" lengthAdjust="spacingAndGlyphs">8.4. <tspan class="h" dx="3">Zertifizierung, Auditierung</tspan></text></g>

<g id="n15"><rect class="t" x="1107" y="947" width="253" height="36"/><text class="w" x="1116" y="972.5" textLength="236" lengthAdjust="spacingAndGlyphs">15. <tspan class="h" dx="3">Normenkonformität</tspan></text></g>
<g id="n15-1"><rect class="b" x="676" y="735.5" width="401" height="33"/><text x="684" y="759" textLength="386" lengthAdjust="spacingAndGlyphs">15.1. <tspan class="h" dx="3">Anforderungsdefinition, Ist-Stand</tspan></text></g>
<g id="n15-2"><rect class="b" x="623" y="782.5" width="454" height="33"/><text x="631" y="806" textLength="439" lengthAdjust="spacingAndGlyphs">15.2. <tspan class="h" dx="3">Risiko-, Standort-, Gefährdungsanalyse</tspan></text></g>
<g id="n15-3"><rect class="b" x="849" y="906.5" width="228" height="33"/><text x="857" y="930" textLength="213" lengthAdjust="spacingAndGlyphs">15.3. <tspan class="h" dx="3">Normenabgleich</tspan></text></g>
<g id="n15-3-1"><rect class="b" x="569" y="830" width="250" height="33"/><text x="577" y="853.5" textLength="235" lengthAdjust="spacingAndGlyphs">15.3.1. <tspan dx="3">AES - DIN EN 50518</tspan></text></g>
<g id="n15-3-2"><rect class="b" x="610" y="868.5" width="209" height="33"/><text x="618" y="892" textLength="194" lengthAdjust="spacingAndGlyphs">15.3.2. <tspan dx="3">NSL - VdS 3138</tspan></text></g>
<g id="n15-3-3"><rect class="b" x="568" y="906.5" width="251" height="33"/><text x="576" y="930" textLength="236" lengthAdjust="spacingAndGlyphs">15.3.3. <tspan dx="3">Maßnahmenkatalog</tspan></text><use href="#plus" x="547" y="923"/></g>
<g id="n15-3-4"><rect class="b" x="422" y="945.5" width="397" height="33"/><text x="430" y="969" textLength="382" lengthAdjust="spacingAndGlyphs">15.3.4. <tspan dx="3">Umsetzungskonzept, Detailleistungen</tspan></text></g>
<g id="n15-3-5"><rect class="b" x="683" y="983.5" width="136" height="33"/><text x="691" y="1007" textLength="121" lengthAdjust="spacingAndGlyphs">15.3.5. <tspan dx="3">Kosten</tspan></text></g>
<g id="n15-4"><rect class="b" x="878" y="1103.5" width="199" height="33"/><text x="886" y="1127" textLength="184" lengthAdjust="spacingAndGlyphs">15.4. <tspan class="h" dx="3">Zertifizierung</tspan></text></g>
<g id="n15-4-1"><rect class="b" x="736" y="1045.5" width="112" height="33"/><text x="744" y="1069" textLength="97" lengthAdjust="spacingAndGlyphs">15.4.1. <tspan dx="3">NSL</tspan></text></g>
<g id="n15-4-2"><rect class="b" x="588" y="1083.5" width="260" height="33"/><text x="596" y="1107" textLength="245" lengthAdjust="spacingAndGlyphs">15.4.2. <tspan dx="3">TÜViT TSA Level 1 -4</tspan></text></g>
<g id="n15-4-3"><rect class="b" x="648" y="1122.5" width="200" height="33"/><text x="656" y="1146" textLength="185" lengthAdjust="spacingAndGlyphs">15.4.3. <tspan dx="3">DIN EN 50518</tspan></text></g>
<g id="n15-4-4"><rect class="b" x="433" y="1160.5" width="415" height="33"/><text x="441" y="1184" textLength="400" lengthAdjust="spacingAndGlyphs">15.4.4. <tspan dx="3">Zertifizierungsvorbereitung, -begleitung</tspan></text></g>

<g id="n14"><rect class="t" x="1222" y="1296" width="137" height="36"/><text class="w" x="1231" y="1321.5" textLength="120" lengthAdjust="spacingAndGlyphs">14. <tspan class="h" dx="3">Personal</tspan></text></g>
<g id="n14-1"><rect class="b" x="889" y="1202.5" width="304" height="33"/><text x="897" y="1226" textLength="289" lengthAdjust="spacingAndGlyphs">14.1. <tspan class="h" dx="3">Personalbedarf, -Einsatz</tspan></text></g>
<g id="n14-2"><rect class="b" x="906" y="1250" width="287" height="33"/><text x="914" y="1273.5" textLength="272" lengthAdjust="spacingAndGlyphs">14.2. <tspan class="h" dx="3">Personal-Recrutierung</tspan></text></g>
<g id="n14-3"><rect class="b" x="1038" y="1298" width="155" height="33"/><text x="1046" y="1321.5" textLength="140" lengthAdjust="spacingAndGlyphs">14.3. <tspan class="h" dx="3">Schulung</tspan></text></g>
<g id="n14-4"><rect class="b" x="980" y="1345.5" width="213" height="33"/><text x="988" y="1369" textLength="198" lengthAdjust="spacingAndGlyphs">14.4. <tspan class="h" dx="3">Notfalltraining</tspan></text></g>
<g id="n14-5"><rect class="b" x="1042" y="1393.5" width="151" height="33"/><text x="1050" y="1417" textLength="136" lengthAdjust="spacingAndGlyphs">14.5. <tspan class="h" dx="3">Rotation</tspan></text></g>

<g id="n13"><rect class="t" x="1148" y="1887" width="212" height="36"/><text class="w" x="1157" y="1912.5" textLength="195" lengthAdjust="spacingAndGlyphs">13. <tspan class="h" dx="3">Inbetriebnahme</tspan></text></g>
<g id="n13-1"><rect class="b" x="881" y="1511.5" width="237" height="33"/><text x="888" y="1535" textLength="223" lengthAdjust="spacingAndGlyphs">13.1. <tspan class="h" dx="3">Datenversorgung</tspan></text></g>
<g id="n13-1-1"><rect class="b" x="544" y="1435.5" width="306" height="33"/><text x="551" y="1459" textLength="292" lengthAdjust="spacingAndGlyphs">13.1.1. <tspan dx="3">Melderdaten, Datenpunkte</tspan></text></g>
<g id="n13-1-2"><rect class="b" x="614" y="1473.5" width="236" height="33"/><text x="621" y="1497" textLength="222" lengthAdjust="spacingAndGlyphs">13.1.2. <tspan dx="3">Datenübernahmen</tspan></text></g>
<g id="n13-1-3"><rect class="b" x="566" y="1511.5" width="284" height="33"/><text x="573" y="1535" textLength="270" lengthAdjust="spacingAndGlyphs">13.1.3. <tspan dx="3">Graphiken, Zeichnungen</tspan></text></g>
<g id="n13-1-4"><rect class="b" x="514" y="1550.5" width="336" height="33"/><text x="521" y="1574" textLength="322" lengthAdjust="spacingAndGlyphs">13.1.4. <tspan dx="3">Text, Maßnahmen, Alarmlisten</tspan></text></g>
<g id="n13-1-5"><rect class="b" x="618" y="1588.5" width="232" height="33"/><text x="625" y="1612" textLength="218" lengthAdjust="spacingAndGlyphs">13.1.5. <tspan dx="3">Workflowroutinen</tspan></text></g>
<g id="n13-2"><rect class="b" x="891" y="1670.5" width="227" height="33"/><text x="898" y="1694" textLength="213" lengthAdjust="spacingAndGlyphs">13.2. <tspan class="h" dx="3">Test , Abnahmen</tspan></text></g>
<g id="n13-2-1"><rect class="b" x="583" y="1650.5" width="278" height="33"/><text x="590" y="1674" textLength="264" lengthAdjust="spacingAndGlyphs">13.2.1. <tspan dx="3">Leistungsfeststellungen</tspan></text></g>
<g id="n13-2-2"><rect class="b" x="698" y="1689.5" width="163" height="33"/><text x="705" y="1713" textLength="149" lengthAdjust="spacingAndGlyphs">13.2.2. <tspan dx="3">Werkstest</tspan></text><use href="#plus" x="676" y="1706"/></g>
<g id="n13-3"><rect class="b" x="796" y="1790" width="322" height="33"/><text x="803" y="1813.5" textLength="308" lengthAdjust="spacingAndGlyphs">13.3. <tspan class="h" dx="3">Funktions- und Härtetests</tspan></text></g>
<g id="n13-3-1"><rect class="b" x="573" y="1751.5" width="192.5" height="33"/><text x="580" y="1775" textLength="178" lengthAdjust="spacingAndGlyphs">13.3.1. <tspan dx="3">Testszenarien</tspan></text></g>
<g id="n13-3-2"><rect class="b" x="505" y="1790" width="260.5" height="33"/><text x="512" y="1813.5" textLength="246" lengthAdjust="spacingAndGlyphs">13.3.2. <tspan dx="3">Durchführung, Ablauf</tspan></text></g>
<g id="n13-3-3"><rect class="b" x="409" y="1828.5" width="356.5" height="33"/><text x="416" y="1852" textLength="342" lengthAdjust="spacingAndGlyphs">13.3.3. <tspan dx="3">Dokumentation, Fehlerbehebung</tspan></text></g>
<g id="n13-4"><rect class="b" x="780" y="1876" width="338" height="33"/><text x="787" y="1899.5" textLength="324" lengthAdjust="spacingAndGlyphs">13.4. <tspan class="h" dx="3">Probebetrieb, Anpassungen</tspan></text><use href="#plus" x="757" y="1892.5"/></g>
<g id="n13-5"><rect class="b" x="964" y="1923.5" width="154" height="33"/><text x="971" y="1947" textLength="140" lengthAdjust="spacingAndGlyphs">13.5. <tspan class="h" dx="3">Schulung</tspan></text><use href="#plus" x="942" y="1940"/></g>
<g id="n13-6"><rect class="b" x="898" y="2156" width="220" height="33"/><text x="905" y="2179.5" textLength="206" lengthAdjust="spacingAndGlyphs">13.6. <tspan class="h" dx="3">Dokumentation</tspan></text></g>
<g id="n13-6-1"><rect class="b" x="637" y="1970.5" width="231" height="33"/><text x="644" y="1994" textLength="217" lengthAdjust="spacingAndGlyphs">13.6.1. <tspan dx="3">Bau, Innenausbau</tspan></text></g>
<g id="n13-6-2"><rect class="b" x="436" y="2008.5" width="432" height="33"/><text x="443" y="2032" textLength="418" lengthAdjust="spacingAndGlyphs">13.6.2. <tspan dx="3">Gefahrenmanagement-, Einsatzleitsystem</tspan></text></g>
<g id="n13-6-3"><rect class="b" x="585" y="2047" width="283" height="33"/><text x="592" y="2070.5" textLength="269" lengthAdjust="spacingAndGlyphs">13.6.3. <tspan dx="3">Kommunikationstechnik</tspan></text></g>
<g id="n13-6-4"><rect class="b" x="461" y="2085.5" width="407" height="33"/><text x="468" y="2109" textLength="393" lengthAdjust="spacingAndGlyphs">13.6.4. <tspan dx="3">Leitstellentische, Leitstellenmöblierung</tspan></text></g>
<g id="n13-6-5"><rect class="b" x="557" y="2123.5" width="311" height="33"/><text x="564" y="2147" textLength="297" lengthAdjust="spacingAndGlyphs">13.6.5. <tspan dx="3">Funktionalität der Software</tspan></text></g>
<g id="n13-6-6"><rect class="b" x="520" y="2161.5" width="348" height="33"/><text x="527" y="2185" textLength="334" lengthAdjust="spacingAndGlyphs">13.6.6. <tspan dx="3">Beschreibung der Applikationen</tspan></text></g>
<g id="n13-6-7"><rect class="b" x="630" y="2200" width="238" height="33"/><text x="637" y="2223.5" textLength="224" lengthAdjust="spacingAndGlyphs">13.6.7. <tspan dx="3">Datenbankstruktur</tspan></text></g>
<g id="n13-6-8"><rect class="b" x="504" y="2238.5" width="364" height="33"/><text x="511" y="2262" textLength="350" lengthAdjust="spacingAndGlyphs">13.6.8. <tspan dx="3">Struktur GMS-, ELS-, GIS-Grafiken</tspan></text></g>
<g id="n13-6-9"><rect class="b" x="612" y="2276" width="256" height="33"/><text x="619" y="2299.5" textLength="242" lengthAdjust="spacingAndGlyphs">13.6.9. <tspan dx="3">Schnittstellentechnik</tspan></text></g>
<g id="n13-6-10"><rect class="b" x="364.5" y="2315" width="503.5" height="58"/><text x="372" y="2338" textLength="484" lengthAdjust="spacingAndGlyphs">13.6.10. <tspan dx="3">Abläufe für die Durchführung von Einsätzen von</tspan></text><text x="450" y="2364" textLength="266" lengthAdjust="spacingAndGlyphs">der Meldung bis zum Abschluss</text></g>

<g id="n12"><rect class="t" x="1154" y="2429" width="206" height="36"/><text class="w" x="1163" y="2454.5" textLength="189" lengthAdjust="spacingAndGlyphs">12. <tspan class="h" dx="3">Rückfallebenen</tspan></text></g>
<g id="n12-1"><rect class="b" x="931" y="2382.5" width="193" height="33"/><text x="938" y="2406" textLength="179" lengthAdjust="spacingAndGlyphs">12.1. <tspan class="h" dx="3">Infrastruktur</tspan></text></g>
<g id="n12-2"><rect class="b" x="913" y="2430.5" width="211" height="33"/><text x="920" y="2454" textLength="197" lengthAdjust="spacingAndGlyphs">12.2. <tspan class="h" dx="3">Systemtechnik</tspan></text><use href="#plus" x="893" y="2447"/></g>
<g id="n12-3"><rect class="b" x="972" y="2478.5" width="152" height="33"/><text x="979" y="2502" textLength="138" lengthAdjust="spacingAndGlyphs">12.3. <tspan class="h" dx="3">Standort</tspan></text></g>

<g id="n11"><rect class="t" x="1060" y="2615" width="300" height="36"/><text class="w" x="1069" y="2640.5" textLength="283" lengthAdjust="spacingAndGlyphs">11. <tspan class="h" dx="3">Wartung, Instandhaltung</tspan></text></g>
<g id="n11-1"><rect class="b" x="513" y="2520.5" width="517" height="33"/><text x="520" y="2544" textLength="503" lengthAdjust="spacingAndGlyphs">11.1. <tspan class="h" dx="3">Wartungsvertrag, Instandhaltungsleistungen</tspan></text></g>
<g id="n11-2"><rect class="b" x="789" y="2568" width="241" height="33"/><text x="796" y="2591.5" textLength="227" lengthAdjust="spacingAndGlyphs">11.2. <tspan class="h" dx="3">Instandsetzungen</tspan></text></g>
<g id="n11-3"><rect class="b" x="415" y="2615.5" width="615" height="33"/><text x="422" y="2639" textLength="601" lengthAdjust="spacingAndGlyphs">11.3. <tspan class="h" dx="3">Service Level Agreements, Key Performance Indicators</tspan></text></g>
<g id="n11-4"><rect class="b" x="589" y="2663.5" width="441" height="33"/><text x="596" y="2687" textLength="427" lengthAdjust="spacingAndGlyphs">11.4. <tspan class="h" dx="3">Software-, Hardwareaktualisierungen</tspan></text></g>
<g id="n11-5"><rect class="b" x="844" y="2711" width="186" height="33"/><text x="851" y="2734.5" textLength="172" lengthAdjust="spacingAndGlyphs">11.5. <tspan class="h" dx="3">Fernzugriffe</tspan></text></g>

<g id="n10"><rect class="t" x="744" y="2823" width="615" height="36"/><text class="w" x="753" y="2848.5" textLength="598" lengthAdjust="spacingAndGlyphs">10. <tspan class="h" dx="3">Kommunikationserfordernisse zu externen Leitzentralen</tspan></text></g>
<g id="n10-1"><rect class="b" x="586" y="2753.5" width="128" height="33"/><text x="593" y="2777" textLength="114" lengthAdjust="spacingAndGlyphs">10.1. <tspan class="h" dx="3">Polizei</tspan></text></g>
<g id="n10-2"><rect class="b" x="452" y="2801.5" width="262" height="33"/><text x="459" y="2825" textLength="248" lengthAdjust="spacingAndGlyphs">10.2. <tspan class="h" dx="3">Katastrophenschutz</tspan></text></g>
<g id="n10-3"><rect class="b" x="544" y="2849.5" width="170" height="33"/><text x="551" y="2873" textLength="156" lengthAdjust="spacingAndGlyphs">10.3. <tspan class="h" dx="3">Feuerwehr</tspan></text></g>
<g id="n10-4"><rect class="b" x="15" y="2896.5" width="699" height="33"/><text x="22" y="2920" textLength="669" lengthAdjust="spacingAndGlyphs">10.4. <tspan class="h" dx="3">Nachbarunternehmen im Betroffenheitsradius des Ereignisses</tspan></text></g>

<g id="n9"><rect class="t" x="1190" y="3056" width="170" height="36"/><text class="w" x="1199" y="3081.5" textLength="153" lengthAdjust="spacingAndGlyphs">9. <tspan class="h" dx="3">Organisation</tspan></text></g>
<g id="n9-1"><rect class="b" x="585" y="2938.5" width="575" height="33"/><text x="592" y="2962" textLength="551" lengthAdjust="spacingAndGlyphs">9.1. <tspan class="h" dx="3">Arbeitsplatzorganisation in der Sicherheitszentrale</tspan></text></g>
<g id="n9-2"><rect class="b" x="884" y="2986.5" width="276" height="33"/><text x="891" y="3010" textLength="262" lengthAdjust="spacingAndGlyphs">9.2. <tspan class="h" dx="3">Arbeitsanforderungen</tspan></text></g>
<g id="n9-3"><rect class="b" x="845.5" y="3034.5" width="314.5" height="33"/><text x="853" y="3058" textLength="300" lengthAdjust="spacingAndGlyphs">9.3. <tspan class="h" dx="3">Dokumentenmanagement</tspan></text><use href="#plus" x="824" y="3051"/></g>
<g id="n9-4"><rect class="b" x="961" y="3082" width="199" height="33"/><text x="968" y="3105.5" textLength="185" lengthAdjust="spacingAndGlyphs">9.4. <tspan class="h" dx="3">FW-Laufkarten</tspan></text></g>
<g id="n9-5"><rect class="b" x="1010" y="3129.5" width="150" height="33"/><text x="1017" y="3153" textLength="136" lengthAdjust="spacingAndGlyphs">9.5. <tspan class="h" dx="3">Workflow</tspan></text></g>
<g id="n9-6"><rect class="b" x="741" y="3177.5" width="419" height="33"/><text x="748" y="3201" textLength="405" lengthAdjust="spacingAndGlyphs">9.6. <tspan class="h" dx="3">Personal- und Ressourcendisposition</tspan></text></g>

<g id="note"><rect x="412" y="3373" width="756" height="91" fill="#231f20"/><text class="n" x="426" y="3412" textLength="637" lengthAdjust="spacingAndGlyphs">* Ausgewählte Anhaltspunkte ohne Angabe von</text><text class="n" x="446" y="3451" textLength="697" lengthAdjust="spacingAndGlyphs">Anforderungen oder Konzept- und Planungsinhalten</text></g>

<g id="logo"><text x="2592" y="3703" style="font-size:31px;font-weight:700;fill:#414042">Cop</text><rect x="2579" y="3740" width="120" height="166" fill="none" stroke="#58595b" stroke-width="3"/><circle cx="2654" cy="3823" r="62.5" fill="none" stroke="#939598" stroke-width="9"/><text x="2577" y="3988" style="font-size:100px;font-weight:700;fill:#4d4d4f">V</text></g>
</svg>
